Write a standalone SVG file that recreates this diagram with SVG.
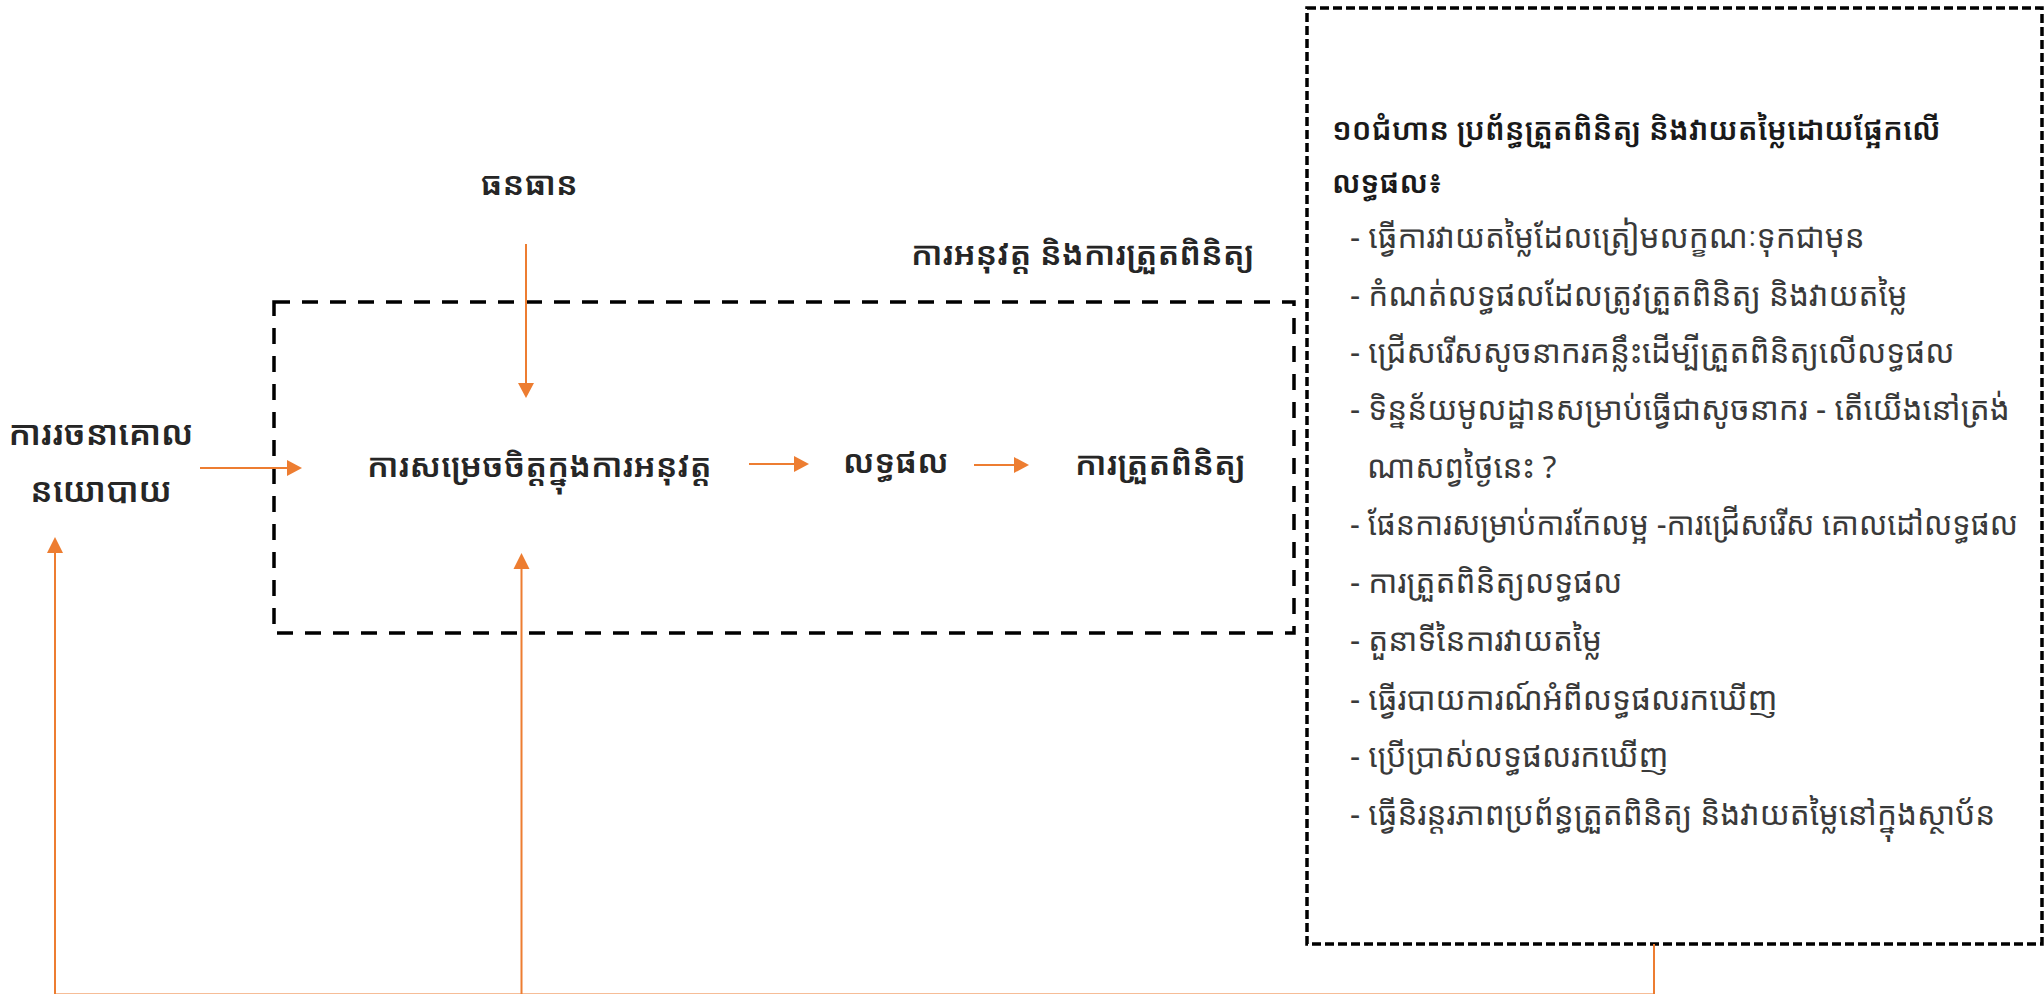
<svg xmlns="http://www.w3.org/2000/svg" width="2044" height="994" viewBox="0 0 2044 994">
  <defs>
    <style>
      .lbl { font-family: "Noto Sans Khmer", "Khmer OS", "Noto Sans", "DejaVu Sans", sans-serif; fill: #262626; font-weight: 600; font-size: 33px; }
      .head { font-family: "Noto Sans Khmer", "Khmer OS", "Noto Sans", "DejaVu Sans", sans-serif; fill: #1a1a1a; font-weight: 600; font-size: 30px; }
      .item { font-family: "Noto Sans Khmer", "Khmer OS", "Noto Sans", "DejaVu Sans", sans-serif; fill: #3a3a3a; font-weight: 400; font-size: 31.5px; }
      .frame { fill: none; stroke: #000; stroke-width: 3.5; }
      .link { fill: none; stroke: #ED7D31; stroke-width: 2; }
      .head-arrow { fill: #ED7D31; }
    </style>
  </defs>
  <rect width="2044" height="994" fill="#fff"/>

  <!-- implementation and monitoring frame -->
  <g id="frame-implementation">
    <rect class="frame" x="274" y="302" width="1020" height="331" stroke-dasharray="16 12"/>
    <text class="lbl" x="911" y="265">ការអនុវត្ត និងការត្រួតពិនិត្យ</text>
  </g>

  <!-- ten steps panel -->
  <g id="panel-steps">
    <rect class="frame" x="1307" y="8" width="735" height="936" stroke-dasharray="9 4"/>
    <text class="head" x="1332" y="140">១០ជំហាន ប្រព័ន្ធត្រួតពិនិត្យ និងវាយតម្លៃដោយផ្អែកលើ</text>
    <text class="head" x="1332" y="193">លទ្ធផល៖</text>
    <g class="item">
      <text x="1350" y="248">- ធ្វើការវាយតម្លៃដែលត្រៀមលក្ខណៈទុកជាមុន</text>
      <text x="1350" y="306">- កំណត់លទ្ធផលដែលត្រូវត្រួតពិនិត្យ និងវាយតម្លៃ</text>
      <text x="1350" y="363">- ជ្រើសរើសសូចនាករគន្លឹះដើម្បីត្រួតពិនិត្យលើលទ្ធផល</text>
      <text x="1350" y="420">- ទិន្នន័យមូលដ្ឋានសម្រាប់ធ្វើជាសូចនាករ - តើយើងនៅត្រង់</text>
      <text x="1367" y="478">ណាសព្វថ្ងៃនេះ ?</text>
      <text x="1350" y="535" textLength="668" lengthAdjust="spacingAndGlyphs">- ផែនការសម្រាប់ការកែលម្អ -ការជ្រើសរើស គោលដៅលទ្ធផល</text>
      <text x="1350" y="593">- ការត្រួតពិនិត្យលទ្ធផល</text>
      <text x="1350" y="651">- តួនាទីនៃការវាយតម្លៃ</text>
      <text x="1350" y="710">- ធ្វើរបាយការណ៍អំពីលទ្ធផលរកឃើញ</text>
      <text x="1350" y="767">- ប្រើប្រាស់លទ្ធផលរកឃើញ</text>
      <text x="1350" y="825">- ធ្វើនិរន្តរភាពប្រព័ន្ធត្រួតពិនិត្យ និងវាយតម្លៃនៅក្នុងស្ថាប័ន</text>
    </g>
  </g>

  <g id="node-policy">
    <text class="lbl" x="101" y="445" text-anchor="middle" style="font-size:34px">ការរចនាគោល</text>
    <text class="lbl" x="101" y="502" text-anchor="middle" style="font-size:34px">នយោបាយ</text>
  </g>
  <g id="node-resources">
    <text class="lbl" x="529" y="195" text-anchor="middle">ធនធាន</text>
  </g>
  <g id="node-decision">
    <text class="lbl" x="367" y="477">ការសម្រេចចិត្តក្នុងការអនុវត្ត</text>
  </g>
  <g id="node-results">
    <text class="lbl" x="843" y="473">លទ្ធផល</text>
  </g>
  <g id="node-monitoring">
    <text class="lbl" x="1075" y="475">ការត្រួតពិនិត្យ</text>
  </g>

  <!-- connectors -->
  <g id="connectors">
    <path class="link" d="M526,244 V384"/>
    <path class="head-arrow" d="M518,383 L534,383 L526,398 Z"/>
    <path class="link" d="M200,468 H287"/>
    <path class="head-arrow" d="M287,460 L302,468 L287,476 Z"/>
    <path class="link" d="M749,464 H795"/>
    <path class="head-arrow" d="M794,456 L809,464 L794,472 Z"/>
    <path class="link" d="M974,465 H1015"/>
    <path class="head-arrow" d="M1014,457 L1029,465 L1014,473 Z"/>
    <!-- feedback loop from the steps panel -->
    <path class="link" d="M1654,944 V994.5 H55 V552"/>
    <path class="head-arrow" d="M47,553 L63,553 L55,537 Z"/>
    <path class="link" d="M521.5,994 V568"/>
    <path class="head-arrow" d="M513.5,569 L529.5,569 L521.5,553 Z"/>
  </g>
</svg>
